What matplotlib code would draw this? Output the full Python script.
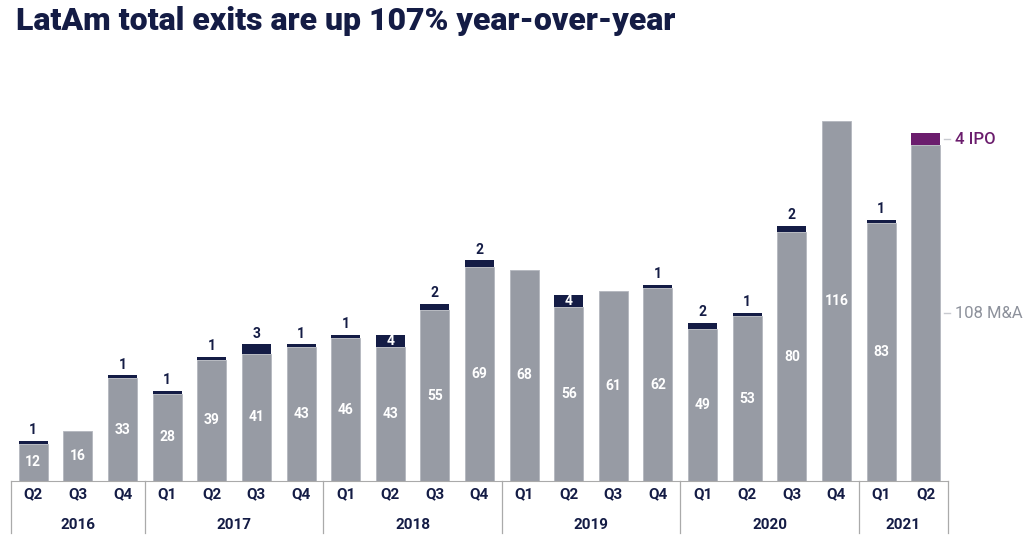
import matplotlib.pyplot as plt
import matplotlib.transforms as mtransforms

plt.rcParams["font.family"] = ["Roboto", "DejaVu Sans"]

quarters = ["Q2", "Q3", "Q4",
            "Q1", "Q2", "Q3", "Q4",
            "Q1", "Q2", "Q3", "Q4",
            "Q1", "Q2", "Q3", "Q4",
            "Q1", "Q2", "Q3", "Q4",
            "Q1", "Q2"]
years = ["2016", "2017", "2018", "2019", "2020", "2021"]
year_counts = [3, 4, 4, 4, 4, 2]
ma = [12, 16, 33, 28, 39, 41, 43, 46, 43, 55, 69, 68, 56, 61, 62, 49, 53, 80, 116, 83, 108]
ipo = [1, 0, 1, 1, 1, 3, 1, 1, 4, 2, 2, 0, 4, 0, 1, 2, 1, 2, 0, 1, 4]

GREY = "#979ba4"
NAVY = "#141c45"
PURPLE = "#6b1d6d"
TEXT_GREY = "#8d919b"

fig = plt.figure(figsize=(10.24, 5.5), dpi=100)
ax = fig.add_axes([11 / 1024, 69 / 550, 937 / 1024, 404 / 550])

x = list(range(len(ma)))
last = len(ma) - 1
ipo_colors = [NAVY] * last + [PURPLE]
ax.bar(x, ma, width=0.65, color=GREY, edgecolor="#b4b7be", linewidth=0.6)
ax.bar(x, ipo, bottom=ma, width=0.65, color=ipo_colors, linewidth=0)

for i in x:
    if i != last:
        ax.text(i, ma[i] / 2, str(ma[i]), ha="center", va="center",
                color="white", fontsize=10, fontweight="bold")
    if ipo[i] and i != last:
        top = ma[i] + ipo[i]
        if ipo[i] >= 4:
            ax.text(i, ma[i] + ipo[i] / 2, str(ipo[i]), ha="center", va="center",
                    color="white", fontsize=10, fontweight="bold")
        else:
            ax.text(i, top + 1.2, str(ipo[i]), ha="center", va="bottom",
                    color=NAVY, fontsize=10, fontweight="bold")

# right-hand labels for the last bar
ax.plot([last + 0.4, last + 0.55], [ma[last] + ipo[last] / 2] * 2,
        color="#c8cad0", lw=1, clip_on=False)
ax.text(last + 0.65, ma[last] + ipo[last] / 2, f"{ipo[last]} IPO", ha="left",
        va="center", color=PURPLE, fontsize=12, fontweight="medium")
ax.plot([last + 0.4, last + 0.55], [ma[last] / 2] * 2,
        color="#c8cad0", lw=1, clip_on=False)
ax.text(last + 0.65, ma[last] / 2, f"{ma[last]} M&A", ha="left",
        va="center", color=TEXT_GREY, fontsize=12)

ax.set_xlim(-0.5, len(ma) - 0.5)
ax.set_ylim(0, 130)
for s in ["top", "right", "left"]:
    ax.spines[s].set_visible(False)
ax.spines["bottom"].set_color("#aaaaaa")
ax.set_yticks([])
ax.set_xticks([])

# category axis with year groups
trans = mtransforms.blended_transform_factory(ax.transData, ax.transAxes)
for i, q in enumerate(quarters):
    ax.text(i, -0.032, q, transform=trans, ha="center", va="center",
            color=NAVY, fontsize=11, fontweight="bold")
start = 0
bounds = [-0.5]
for yr, n in zip(years, year_counts):
    ax.text(start + (n - 1) / 2, -0.11, yr, transform=trans, ha="center",
            va="center", color=NAVY, fontsize=11, fontweight="bold")
    start += n
    bounds.append(start - 0.5)
for b in bounds:
    ax.plot([b, b], [0, -0.128], transform=trans, color="#aaaaaa",
            lw=0.9, clip_on=False)

fig.text(16 / 1024, 1 - 21 / 550, "LatAm total exits are up 107% year-over-year",
         ha="left", va="center", fontsize=23, fontweight="heavy", color=NAVY)

fig.savefig("out.png", dpi=100)
